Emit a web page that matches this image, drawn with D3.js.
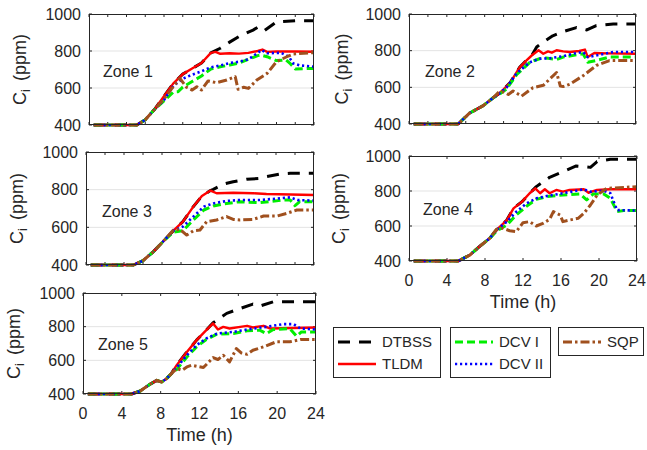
<!DOCTYPE html>
<html><head><meta charset="utf-8">
<script src="https://cdn.jsdelivr.net/npm/d3@7"></script>
<style>
body{margin:0;background:#fff;}
svg text{font-family:"Liberation Sans",Arial,Helvetica,sans-serif;fill:#262626;}
</style></head>
<body><svg id="c" width="647" height="450"></svg>
<script>
// ---------- DATA: [time (h), CO2 concentration (ppm)] ----------
const seriesNames = ["DTBSS","TLDM","DCV I","DCV II","SQP"];
const zoneNames = ["Zone 1","Zone 2","Zone 3","Zone 4","Zone 5"];
const xTickLabels = [0,4,8,12,16,20,24];
const yTickLabels = [400,600,800,1000];

// Zone 1
const z1_TLDM  = [[0.5,400],[5.1,400],[6,428],[7,485],[8,555],[9,625],[10,675],[11,705],[12,735],[13,790],[13.5,795],[14,785],[15,788],[16,786],[17,790],[18,800],[18.5,808],[19,795],[20,797],[22,797],[24,796]];
const z1_DTBSS = [[0.5,400],[5.1,400],[6,428],[7,485],[8,555],[9,625],[10,675],[11,705],[12,735],[13,790],[14,815],[15,848],[16,878],[17,902],[17.5,913],[18.1,931],[18.7,910],[20,958],[22,964],[24,964]];
const z1_DCV1  = [[0.5,400],[5.1,400],[6,428],[7,485],[8,530],[9,578],[9.5,580],[10,605],[11,635],[12,665],[13,703],[14,715],[15,724],[16,735],[17,755],[18,775],[18.3,778],[19,769],[20,748],[21,752],[21.5,730],[22,703],[24,706]];
const z1_DCV2  = [[0.5,400],[5.1,400],[6,428],[7,485],[8,535],[9,612],[10,650],[11,672],[12,690],[13,712],[14,722],[15,735],[16,742],[17,755],[18,790],[18.4,805],[19,788],[20.5,790],[21.3,770],[21.8,733],[22.5,722],[24,715]];
const z1_SQP   = [[0.5,400],[5.1,400],[6,428],[7,485],[8,540],[8.5,575],[9.4,634],[9.7,652],[10.4,604],[11,589],[11.5,607],[12,589],[12.7,638],[13.6,629],[14.7,643],[15.6,661],[15.9,593],[16.5,604],[17,598],[17.9,643],[19,679],[20,742],[21.1,769],[21.8,784],[24,791]];

// Zone 2
const z2_TLDM  = [[0.5,400],[5.2,400],[6.4,459],[7.85,500],[8.9,543],[9.5,565],[10,589],[10.7,626],[11.7,709],[12.4,746],[13,775],[13.7,802],[14.2,783],[14.7,796],[15.1,789],[15.6,802],[16.3,796],[17,793],[18,798],[18.6,806],[18.9,765],[19.6,787],[21,785],[24,783]];
const z2_DTBSS = [[0.5,400],[5.2,400],[6.4,459],[7.85,500],[8.9,543],[9.5,565],[10,589],[10.7,626],[11.7,709],[12.4,746],[13,775],[13.5,820],[14,840],[15.2,881],[16.3,904],[17.7,926],[18.8,913],[19.8,937],[21.6,946],[24,946]];
const z2_DCV1  = [[0.5,400],[5.2,400],[6.4,459],[7.85,500],[8.9,543],[9.5,560],[10.3,590],[11.4,670],[12.8,737],[13.8,756],[14.5,760],[15.6,752],[16.3,765],[18.4,783],[18.9,737],[19.8,746],[21.2,765],[24,765]];
const z2_DCV2  = [[0.5,400],[5.2,400],[6.4,459],[7.85,500],[8.9,543],[9.5,565],[10.3,598],[11.4,678],[12.8,737],[13.8,756],[14.9,759],[16.3,770],[17.5,785],[18.4,793],[18.9,765],[19.8,774],[21.6,793],[24,793]];
const z2_SQP   = [[0.5,400],[5.2,400],[6.4,459],[7.85,500],[8.9,543],[9.5,575],[10,574],[10.5,561],[11,580],[11.9,552],[13.1,598],[14.2,611],[15.6,681],[16,607],[16.3,604],[17,617],[18.4,663],[19.8,719],[21.2,746],[24,746]];

// Zone 3
const z3_TLDM  = [[0.5,400],[5,400],[6,423],[7.1,471],[8.1,524],[9.2,582],[10.2,630],[11.3,710],[12.2,766],[13.1,795],[13.75,781],[15.5,784],[17.6,781],[19,777],[24,772]];
const z3_DTBSS = [[0.5,400],[5,400],[6,423],[7.1,471],[8.1,524],[9.2,582],[10.2,630],[11.3,710],[12.2,766],[13.1,795],[13.4,802],[14.5,830],[15.5,842],[16.9,855],[18.3,860],[19,869],[20.4,883],[21.5,887],[24,887]];
const z3_DCV1  = [[0.5,400],[5,400],[6,423],[7.1,471],[8.1,524],[9.2,575],[10.2,582],[11.3,639],[12.4,692],[13.4,713],[14.8,727],[16.2,736],[18.3,731],[20.8,745],[21.5,745],[22,715],[22.5,736],[24,736]];
const z3_DCV2  = [[0.5,400],[5,400],[6,423],[7.1,471],[8.1,524],[9.2,582],[10.2,604],[11.3,657],[12.4,710],[13.4,727],[14.8,740],[16.2,745],[18.3,745],[20.4,754],[21.5,759],[22.3,745],[24,742]];
const z3_SQP   = [[0.5,400],[5,400],[6,423],[7.1,471],[8.1,524],[9.2,586],[9.9,589],[10.6,559],[11.3,582],[12,586],[12.7,630],[13.75,639],[14.8,657],[15.5,642],[16.2,639],[17.6,642],[18.7,660],[20.1,660],[21.1,674],[22.2,692],[24,692]];

// Zone 4
const z4_TLDM  = [[0.5,400],[5.2,400],[6.4,434],[7.5,486],[8.5,530],[9.2,577],[10.3,634],[11,701],[11.9,739],[12.7,787],[13.3,815],[13.8,787],[14.3,810],[14.8,787],[15.5,806],[16.2,796],[16.9,806],[18.4,810],[18.9,790],[19.8,806],[21.2,810],[24,810]];
const z4_DTBSS = [[0.5,400],[5.2,400],[6.4,434],[7.5,486],[8.5,530],[9.2,577],[10.3,634],[11,701],[11.9,739],[12.7,787],[13.4,825],[14.8,878],[16.2,910],[17.6,943],[18.4,939],[19.1,935],[19.8,968],[21.2,981],[24,981]];
const z4_DCV1  = [[0.5,400],[5.2,400],[6.4,434],[7.5,486],[8.5,530],[9.2,570],[10.3,606],[11.3,663],[12.4,714],[13.4,752],[14.5,768],[16.2,777],[18,783],[18.7,749],[19.4,783],[20.5,783],[21.2,758],[21.9,682],[22.6,688],[24,688]];
const z4_DCV2  = [[0.5,400],[5.2,400],[6.4,434],[7.5,486],[8.5,530],[9.2,577],[10.3,625],[11.3,682],[12.4,730],[13.4,758],[14.5,771],[16.2,787],[18.4,810],[19.1,796],[20.5,802],[21.2,787],[21.9,691],[22.6,690],[24,688]];
const z4_SQP   = [[0.5,400],[5.2,400],[6.4,434],[7.5,486],[8.5,530],[9.2,581],[9.9,587],[10.6,573],[11.3,568],[12,619],[12.7,625],[13.4,600],[14.1,615],[14.8,638],[15.2,682],[15.9,663],[16.2,625],[16.9,634],[17.8,644],[18.4,672],[19.1,720],[19.8,777],[20.8,815],[24,825]];

// Zone 5
const z5_TLDM  = [[0.5,400],[5,400],[5.9,418],[6.9,458],[7.6,481],[8.1,471],[8.6,491],[9.1,521],[9.65,571],[10.7,650],[11.7,720],[12.7,779],[13.4,819],[13.9,783],[14.45,799],[15.1,789],[16.2,799],[16.9,805],[17.5,795],[18.6,805],[19.3,789],[24,795]];
const z5_DTBSS = [[0.5,400],[5,400],[5.9,418],[6.9,458],[7.6,481],[8.1,471],[8.6,491],[9.1,521],[9.65,571],[10.7,650],[11.7,720],[12.7,779],[13.4,823],[14.8,879],[16.2,908],[17.5,934],[18.2,922],[19.6,948],[24,948]];
const z5_DCV1  = [[0.5,400],[5,400],[5.9,418],[6.9,458],[7.6,481],[8.1,471],[8.6,491],[9.1,521],[9.65,545],[10.7,620],[11.7,680],[12.7,724],[13.8,756],[15.5,759],[16.9,775],[18.2,779],[18.9,759],[19.6,783],[21.3,789],[22,744],[22.5,769],[24,769]];
const z5_DCV2  = [[0.5,400],[5,400],[5.9,418],[6.9,458],[7.6,481],[8.1,471],[8.6,491],[9.1,521],[9.65,557],[10.7,630],[11.7,690],[12.7,730],[13.8,759],[15.5,769],[16.9,783],[18.9,799],[20.6,815],[21.7,815],[22.4,789],[24,783]];
const z5_SQP   = [[0.5,400],[5,400],[5.9,418],[6.9,458],[7.6,481],[8.1,471],[8.6,491],[9.1,521],[9.65,551],[10.2,541],[10.7,561],[11.2,571],[11.7,565],[12.4,557],[13.4,616],[13.9,605],[14.45,630],[15.1,591],[15.8,670],[16.3,644],[16.9,636],[17.5,660],[18.6,680],[19.9,710],[21.3,710],[22.4,724],[24,724]];

const zoneData = [
  [z1_DTBSS,z1_TLDM,z1_DCV1,z1_DCV2,z1_SQP],
  [z2_DTBSS,z2_TLDM,z2_DCV1,z2_DCV2,z2_SQP],
  [z3_DTBSS,z3_TLDM,z3_DCV1,z3_DCV2,z3_SQP],
  [z4_DTBSS,z4_TLDM,z4_DCV1,z4_DCV2,z4_SQP],
  [z5_DTBSS,z5_TLDM,z5_DCV1,z5_DCV2,z5_SQP]
];

// ---------- STYLE / LAYOUT ----------
const styles = [
  {color:"#000000", width:3,   dash:"12,9"},
  {color:"#ff0000", width:2.4, dash:null},
  {color:"#00ee00", width:3,   dash:"8,4"},
  {color:"#0000ff", width:2.6, dash:"2.2,2.8"},
  {color:"#a0501e", width:3,   dash:"9,3,2.5,3"}
];
const panels = [
  {x0:89,  x1:314, y0:14,  y1:125, xlab:false, minor:2, zx:14, zy:77,  ylx:26},
  {x0:409, x1:636, y0:14,  y1:124, xlab:false, minor:2, zx:16, zy:77,  ylx:348},
  {x0:86,  x1:314, y0:152, y1:265, xlab:false, minor:2, zx:16, zy:217, ylx:23},
  {x0:409, x1:637, y0:156, y1:261, xlab:true,  minor:4, zx:14, zy:215, ylx:345},
  {x0:83,  x1:316, y0:293, y1:394, xlab:true,  minor:4, zx:15, zy:350, ylx:20}
];

const svg = d3.select("#c");
const FS = 16, LFS = 18, LEGFS = 15;

panels.forEach((p,i)=>{
  const x = d3.scaleLinear().domain([0,24]).range([p.x0,p.x1]);
  const y = d3.scaleLinear().domain([400,1000]).range([p.y1,p.y0]);
  const g = svg.append("g");
  const cid = "clip"+i;
  svg.append("clipPath").attr("id",cid).append("rect")
    .attr("x",p.x0).attr("y",p.y0-2).attr("width",p.x1-p.x0).attr("height",p.y1-p.y0+4);

  // grid
  g.selectAll(".grid").data([600,800]).enter().append("line")
    .attr("x1",p.x0).attr("x2",p.x1).attr("y1",d=>y(d)).attr("y2",d=>y(d))
    .attr("stroke","#e3e3e3").attr("stroke-width",1);

  // ticks (inward, all sides)
  const xt = d3.range(0,24.01,p.minor);
  const tk = g.append("g").attr("stroke","#262626").attr("stroke-width",1);
  xt.forEach(t=>{
    tk.append("line").attr("x1",x(t)).attr("x2",x(t)).attr("y1",p.y1).attr("y2",p.y1-3);
    tk.append("line").attr("x1",x(t)).attr("x2",x(t)).attr("y1",p.y0).attr("y2",p.y0+3);
  });
  yTickLabels.forEach(v=>{
    tk.append("line").attr("x1",p.x0).attr("x2",p.x0+3).attr("y1",y(v)).attr("y2",y(v));
    tk.append("line").attr("x1",p.x1).attr("x2",p.x1-3).attr("y1",y(v)).attr("y2",y(v));
  });

  // lines
  const line = d3.line().x(d=>x(d[0])).y(d=>y(d[1]));
  const lg = g.append("g").attr("clip-path",`url(#${cid})`);
  zoneData[i].forEach((s,k)=>{
    const st = styles[k];
    lg.append("path").datum(s).attr("d",line)
      .attr("fill","none").attr("stroke",st.color).attr("stroke-width",st.width)
      .attr("stroke-dasharray",st.dash).attr("stroke-linejoin","round");
  });

  // box
  g.append("rect").attr("x",p.x0+0.5).attr("y",p.y0+0.5)
    .attr("width",p.x1-p.x0-1).attr("height",p.y1-p.y0-1)
    .attr("fill","none").attr("stroke","#262626").attr("stroke-width",1);

  // y tick labels
  g.selectAll(".yl").data(yTickLabels).enter().append("text")
    .attr("x",p.x0-8).attr("y",d=>y(d)).attr("dy","0.36em")
    .attr("text-anchor","end").attr("font-size",FS).text(d=>d);

  // x tick labels
  if(p.xlab){
    g.selectAll(".xl").data(xTickLabels).enter().append("text")
      .attr("x",d=>x(d)).attr("y",p.y1+25).attr("text-anchor","middle")
      .attr("font-size",FS).text(d=>d);
    g.append("text").attr("x",(p.x0+p.x1)/2).attr("y",p.y1+47)
      .attr("text-anchor","middle").attr("font-size",LFS).text("Time (h)");
  }

  // y label
  const yl = g.append("text").attr("font-size",LFS).attr("text-anchor","middle")
    .attr("transform",`translate(${p.ylx},${(p.y0+p.y1)/2}) rotate(-90)`);
  yl.append("tspan").text("C");
  yl.append("tspan").attr("font-size",13).attr("dy",4).text("i");
  yl.append("tspan").attr("dy",-4).attr("dx",8).text("(ppm)");

  // zone label
  g.append("text").attr("x",p.x0+p.zx).attr("y",p.zy).attr("font-size",FS).text(zoneNames[i]);
});

// ---------- LEGENDS ----------
const legendBoxes = [
  {x:333, y:327, w:107, h:50, items:[0,1]},
  {x:450, y:327, w:100, h:50, items:[2,3]},
  {x:558, y:327, w:85,  h:28, items:[4]}
];
legendBoxes.forEach(b=>{
  const g = svg.append("g");
  g.append("rect").attr("x",b.x+0.5).attr("y",b.y+0.5).attr("width",b.w).attr("height",b.h)
    .attr("fill","#fff").attr("stroke","#262626").attr("stroke-width",1);
  b.items.forEach((k,j)=>{
    const cy = b.y+15+j*22;
    const st = styles[k];
    g.append("line").attr("x1",b.x+5).attr("x2",b.x+43).attr("y1",cy).attr("y2",cy)
      .attr("stroke",st.color).attr("stroke-width",st.width).attr("stroke-dasharray",st.dash);
    g.append("text").attr("x",b.x+49).attr("y",cy).attr("dy","0.36em")
      .attr("font-size",LEGFS).text(seriesNames[k]);
  });
});
</script></body></html>
